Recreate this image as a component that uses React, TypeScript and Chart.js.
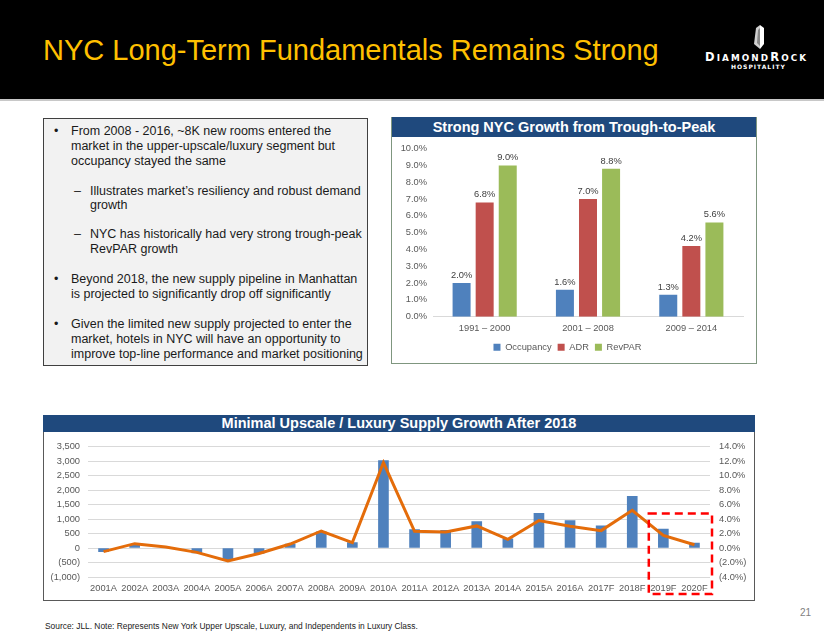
import React, { useEffect, useRef } from 'react';
import { Chart, registerables } from 'chart.js';
Chart.register(...registerables);

// ---- Top chart data ----
const periods = ['1991 – 2000', '2001 – 2008', '2009 – 2014'];
const occupancy = [2.0, 1.6, 1.3];
const adr = [6.8, 7.0, 4.2];
const revpar = [9.0, 8.8, 5.6];

// ---- Bottom chart data ----
const years = ['2001A', '2002A', '2003A', '2004A', '2005A', '2006A', '2007A', '2008A', '2009A', '2010A',
  '2011A', '2012A', '2013A', '2014A', '2015A', '2016A', '2017F', '2018F', '2019F', '2020F'];
const supplyRooms = [-130, 100, 15, -170, -420, -187, 140, 555, 190, 3020, 633, 613, 913, 313, 1200, 947, 767, 1780, 657, 167];
const supplyGrowth = [-0.5, 0.6, 0.15, -0.6, -1.8, -0.75, 0.55, 2.35, 0.75, 11.8, 2.3, 2.2, 3.05, 1.2, 3.8, 3.0, 2.4, 5.2, 1.75, 0.45];

const FONT = '"Liberation Sans", Arial, sans-serif';
const TICK = '#595959';

function TopChart() {
  const ref = useRef<HTMLCanvasElement>(null);
  useEffect(() => {
    const labelPlugin = {
      id: 'barLabels',
      afterDatasetsDraw(chart: any) {
        const ctx = chart.ctx;
        ctx.save();
        ctx.font = `9.3px ${FONT}`;
        ctx.fillStyle = '#404040';
        ctx.textAlign = 'center';
        ctx.textBaseline = 'bottom';
        chart.data.datasets.forEach((ds: any, i: number) => {
          chart.getDatasetMeta(i).data.forEach((el: any, j: number) => {
            ctx.fillText(Number(ds.data[j]).toFixed(1) + '%', el.x, el.y - 3);
          });
        });
        ctx.restore();
      },
    };
    const chart = new Chart(ref.current!, {
      type: 'bar',
      data: {
        labels: periods,
        datasets: [
          { label: 'Occupancy', data: occupancy, backgroundColor: '#4F81BD' },
          { label: 'ADR', data: adr, backgroundColor: '#C0504D' },
          { label: 'RevPAR', data: revpar, backgroundColor: '#9BBB59' },
        ],
      },
      options: {
        responsive: false,
        animation: false,
        devicePixelRatio: 1,
        layout: { padding: { top: 11, right: 12, bottom: 0, left: 0 } },
        datasets: { bar: { categoryPercentage: 0.67, barPercentage: 0.78 } },
        plugins: {
          tooltip: { enabled: false },
          legend: {
            position: 'bottom',
            labels: { boxWidth: 7, boxHeight: 7, padding: 6, color: TICK, font: { family: FONT, size: 9.3 } },
          },
        },
        scales: {
          x: {
            grid: { display: false, drawTicks: false },
            border: { display: true, color: '#D9D9D9' },
            ticks: { color: TICK, font: { family: FONT, size: 9.3 }, padding: 6, maxRotation: 0 },
            afterFit: (s: any) => { s.height = 20; },
          },
          y: {
            min: 0, max: 10,
            grid: { display: false, drawTicks: false },
            border: { display: false },
            ticks: { stepSize: 1, color: TICK, font: { family: FONT, size: 9.3 }, padding: 6,
              callback: (v: any) => Number(v).toFixed(1) + '%' },
            afterFit: (s: any) => { s.width = 41; },
          },
        },
      },
      plugins: [labelPlugin],
    } as any);
    return () => chart.destroy();
  }, []);
  return <canvas ref={ref} width={363} height={225} style={{ display: 'block' }} />;
}

function BottomChart() {
  const ref = useRef<HTMLCanvasElement>(null);
  useEffect(() => {
    const boxPlugin = {
      id: 'forecastBox',
      afterDraw(chart: any) {
        const x = chart.scales.x;
        const y1 = chart.scales.y1;
        const ctx = chart.ctx;
        const half = (x.getPixelForValue(1) - x.getPixelForValue(0)) / 2;
        const l = x.getPixelForValue(18) - half + 1;
        const r = x.getPixelForValue(19) + half + 2;
        const t = y1.getPixelForValue(4.75);
        const b = chart.chartArea.bottom + 17;
        ctx.save();
        ctx.setLineDash([8, 5]);
        ctx.strokeStyle = '#FF0000';
        ctx.lineWidth = 2.5;
        ctx.strokeRect(l, t, r - l, b - t);
        ctx.restore();
      },
    };
    const fmtRooms = (v: number) => (v < 0 ? `(${Math.abs(v).toLocaleString('en-US')})` : v.toLocaleString('en-US'));
    const fmtPct = (v: number) => (v < 0 ? `(${Math.abs(v).toFixed(1)}%)` : v.toFixed(1) + '%');
    const chart = new Chart(ref.current!, {
      type: 'bar',
      data: {
        labels: years,
        datasets: [
          { type: 'line', label: 'Supply Growth', data: supplyGrowth, yAxisID: 'y1', borderColor: '#E46C0A',
            borderWidth: 3, pointRadius: 0, tension: 0, order: 0 },
          { type: 'bar', label: 'New Rooms', data: supplyRooms, yAxisID: 'y', backgroundColor: '#4F81BD',
            barThickness: 10, order: 1 },
        ],
      },
      options: {
        responsive: false,
        animation: false,
        devicePixelRatio: 1,
        layout: { padding: { top: 10, right: 0, bottom: 0, left: 0 } },
        plugins: { legend: { display: false }, tooltip: { enabled: false } },
        scales: {
          x: {
            grid: { display: false, drawTicks: false },
            border: { display: false },
            ticks: { color: TICK, font: { family: FONT, size: 9.3 }, padding: 6, maxRotation: 0, minRotation: 0, autoSkip: false },
            afterFit: (s: any) => { s.height = 22; },
          },
          y: {
            position: 'left',
            min: -1000, max: 3500,
            grid: { color: '#D9D9D9', drawTicks: false },
            border: { display: false },
            ticks: { stepSize: 500, color: TICK, font: { family: FONT, size: 9.3 }, padding: 8,
              callback: (v: any) => fmtRooms(Number(v)) },
            afterFit: (s: any) => { s.width = 44; },
          },
          y1: {
            position: 'right',
            min: -4, max: 14,
            grid: { display: false, drawTicks: false },
            border: { display: false },
            ticks: { stepSize: 2, color: TICK, font: { family: FONT, size: 9.3 }, padding: 9,
              callback: (v: any) => fmtPct(Number(v)) },
            afterFit: (s: any) => { s.width = 44; },
          },
        },
      },
      plugins: [boxPlugin],
    } as any);
    return () => chart.destroy();
  }, []);
  return <canvas ref={ref} width={710} height={167} style={{ display: 'block' }} />;
}

const abs = (l: number, t: number, extra: React.CSSProperties = {}): React.CSSProperties => ({
  position: 'absolute', left: l, top: t, ...extra,
});

function Bullet({ top, children }: { top: number; children: React.ReactNode }) {
  return (
    <div style={{ position: 'absolute', left: 10, top, whiteSpace: 'nowrap' }}>
      <span style={{ position: 'absolute', left: 0, top: 0 }}>•</span>
      <div style={{ marginLeft: 17 }}>{children}</div>
    </div>
  );
}
function Dash({ top, children }: { top: number; children: React.ReactNode }) {
  return (
    <div style={{ position: 'absolute', left: 30, top, whiteSpace: 'nowrap' }}>
      <span style={{ position: 'absolute', left: 0, top: 0 }}>–</span>
      <div style={{ marginLeft: 16 }}>{children}</div>
    </div>
  );
}

export default function App() {
  const lh = 14.8;
  const first = 5; // relative to box content
  return (
    <div style={{ position: 'absolute', left: 0, top: 0, width: 824, height: 637, background: '#fff', overflow: 'hidden', fontFamily: FONT }}>
      {/* Header */}
      <div style={abs(0, 0, { width: 824, height: 99, background: '#000' })} />
      <div style={abs(0, 99, { width: 824, height: 2, background: '#C8C8C8' })} />
      <div style={abs(43, 36, { fontSize: 29, lineHeight: '29px', color: '#FFC000', whiteSpace: 'nowrap' })}>
        NYC Long-Term Fundamentals Remains Strong
      </div>
      {/* Logo */}
      <svg style={abs(752, 24)} width={14} height={26} viewBox="0 0 14 26">
        <polygon points="4,4 8,1 8,25 2,20" fill="#d0d0d0" />
        <polygon points="8,1 12,4 12,20 8,25" fill="#ffffff" />
        <polygon points="6,6 8,4 8,22 5,19" fill="#000" opacity="0.35" />
      </svg>
      <div style={abs(705, 50, { color: '#fff', whiteSpace: 'nowrap', fontFamily: '"DejaVu Sans", sans-serif', fontWeight: 'bold', lineHeight: '12px', letterSpacing: 2.1 })}>
        <span style={{ fontSize: 11.5 }}>D</span>
        <span style={{ fontSize: 8.8 }}>IAMOND</span>
        <span style={{ fontSize: 11.5 }}>R</span>
        <span style={{ fontSize: 8.8 }}>OCK</span>
      </div>
      <div style={abs(731, 63, { color: '#fff', whiteSpace: 'nowrap', fontFamily: '"DejaVu Sans", sans-serif', fontSize: 6, fontWeight: 'bold', letterSpacing: 1, lineHeight: '8px' })}>
        HOSPITALITY
      </div>

      {/* Left text box */}
      <div style={abs(43, 118, { width: 325, height: 248, boxSizing: 'border-box', background: '#F2F2F2', border: '1px solid #404040', fontSize: 12.5, lineHeight: `${lh}px`, color: '#1a1a1a' })}>
        <Bullet top={first}>
          From 2008 - 2016, ~8K new rooms entered the<br />
          market in the upper-upscale/luxury segment but<br />
          occupancy stayed the same
        </Bullet>
        <Dash top={first + 2 * lh + 30}>
          Illustrates market’s resiliency and robust demand<br />
          growth
        </Dash>
        <Dash top={first + 3 * lh + 59}>
          NYC has historically had very strong trough-peak<br />
          RevPAR growth
        </Dash>
        <Bullet top={first + 4 * lh + 89}>
          Beyond 2018, the new supply pipeline in Manhattan<br />
          is projected to significantly drop off significantly
        </Bullet>
        <Bullet top={first + 5 * lh + 119}>
          Given the limited new supply projected to enter the<br />
          market, hotels in NYC will have an opportunity to<br />
          improve top-line performance and market positioning
        </Bullet>
      </div>

      {/* Top chart box */}
      <div style={abs(391, 117, { width: 366, height: 247, boxSizing: 'border-box', border: '1px solid #7F967F' })} />
      <div style={abs(392, 117, { width: 364, height: 20, background: '#1F497D', color: '#fff', fontWeight: 'bold', fontSize: 14.5, lineHeight: '20px', textAlign: 'center', whiteSpace: 'nowrap' })}>
        Strong NYC Growth from Trough-to-Peak
      </div>
      <div style={abs(392, 137)}>
        <TopChart />
      </div>

      {/* Bottom chart box */}
      <div style={abs(43, 415, { width: 712, height: 186, boxSizing: 'border-box', border: '1px solid #595959' })} />
      <div style={abs(43, 415, { width: 712, height: 17, background: '#1F497D', color: '#fff', fontWeight: 'bold', fontSize: 14.5, lineHeight: '17px', textAlign: 'center', whiteSpace: 'nowrap' })}>
        Minimal Upscale / Luxury Supply Growth After 2018
      </div>
      <div style={abs(44, 432)}>
        <BottomChart />
      </div>

      {/* Footer */}
      <div style={abs(800, 607, { fontSize: 10, color: '#7F7F7F', lineHeight: '12px' })}>21</div>
      <div style={abs(45, 621, { fontSize: 8.4, color: '#1a1a1a', lineHeight: '10px', whiteSpace: 'nowrap' })}>
        Source: JLL. Note: Represents New York Upper Upscale, Luxury, and Independents in Luxury Class.
      </div>
    </div>
  );
}
